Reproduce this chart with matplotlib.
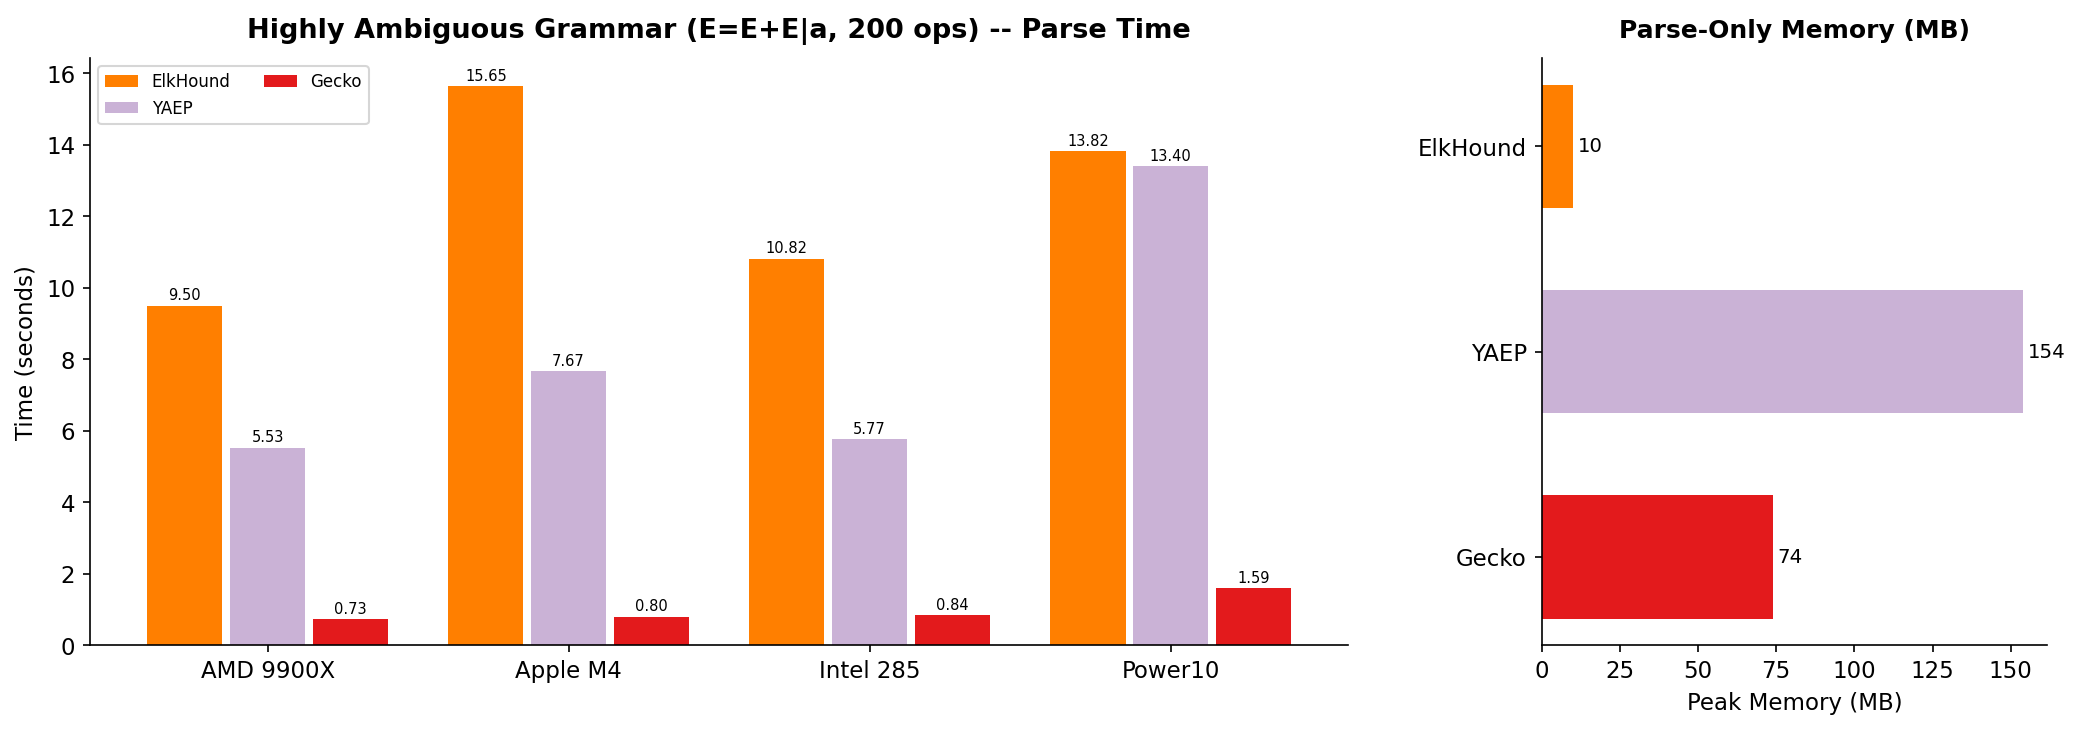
import numpy as np
import matplotlib.pyplot as plt
from matplotlib.ticker import MultipleLocator

cpus = ["AMD 9900X", "Apple M4", "Intel 285", "Power10"]
parsers = ["ElkHound", "YAEP", "Gecko"]
elkhound_times = [9.50, 15.65, 10.82, 13.82]
yaep_times = [5.53, 7.67, 5.77, 13.40]
gecko_times = [0.73, 0.80, 0.84, 1.59]
memory_mb = [10, 154, 74]

colors = ["#ff7f00", "#cab2d6", "#e31a1c"]


def main():
    fig = plt.figure(figsize=(13.85, 4.87), dpi=150)
    ax1 = fig.add_axes([0.0433, 0.116, 0.6057, 0.804])
    ax2 = fig.add_axes([0.742, 0.116, 0.2435, 0.804])

    # grouped bars: parse time per cpu
    x = np.arange(len(cpus))
    w = 0.25
    series = [elkhound_times, yaep_times, gecko_times]
    for i, (name, vals) in enumerate(zip(parsers, series)):
        bars = ax1.bar(x + (i - 1) * 0.275, vals, w, label=name, color=colors[i])
        for b, v in zip(bars, vals):
            ax1.text(b.get_x() + b.get_width() / 2, v + 0.08, f"{v:.2f}",
                     ha="center", va="bottom", fontsize=7)

    ax1.set_xticks(x)
    ax1.set_xticklabels(cpus, fontsize=11)
    ax1.tick_params(axis="y", labelsize=11)
    ax1.set_ylabel("Time (seconds)", fontsize=11)
    ax1.set_title("Highly Ambiguous Grammar (E=E+E|a, 200 ops) -- Parse Time",
                  fontsize=13, fontweight="bold", pad=10)
    ax1.legend(ncol=2, fontsize=8, loc="upper left")
    ax1.spines["top"].set_visible(False)
    ax1.spines["right"].set_visible(False)

    # horizontal bars: memory
    y = np.arange(len(parsers))
    bars = ax2.barh(y, memory_mb, 0.6, color=colors)
    for b, v in zip(bars, memory_mb):
        ax2.text(v + 1.5, b.get_y() + b.get_height() / 2, f"{v}",
                 va="center", ha="left", fontsize=9.5)
    ax2.set_yticks(y)
    ax2.set_yticklabels(parsers, fontsize=11)
    ax2.invert_yaxis()
    ax2.xaxis.set_major_locator(MultipleLocator(25))
    ax2.tick_params(axis="x", labelsize=11)
    ax2.set_xlabel("Peak Memory (MB)", fontsize=11)
    ax2.set_title("Parse-Only Memory (MB)", fontsize=12, fontweight="bold", pad=10)
    ax2.spines["top"].set_visible(False)
    ax2.spines["right"].set_visible(False)

    plt.savefig("out.png", dpi=150)


if __name__ == "__main__":
    main()
